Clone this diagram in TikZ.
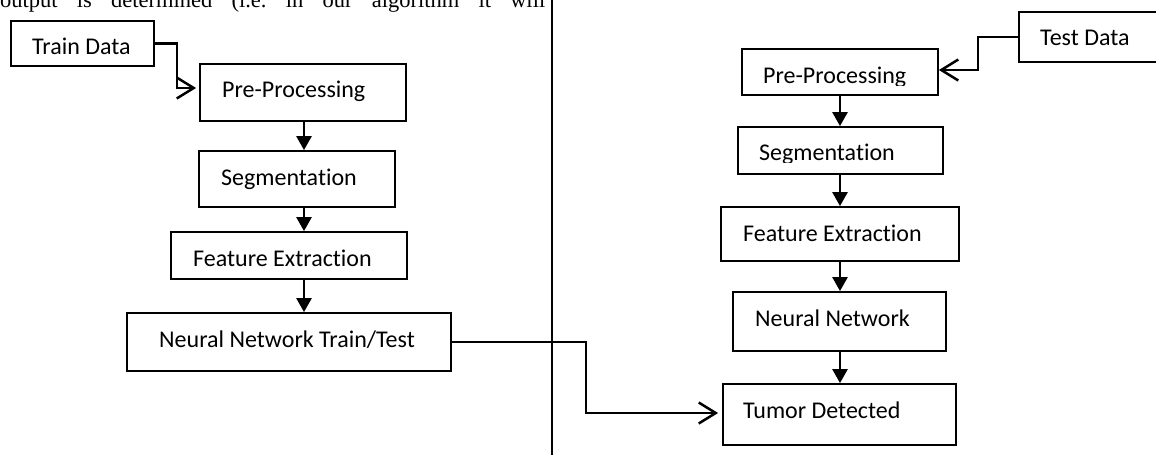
\documentclass[tikz,border=0pt]{standalone}
\usepackage{fontspec}
\setmainfont{Carlito}[Ligatures={NoCommon}]
\newfontfamily\toprm{Liberation Serif}
\usetikzlibrary{arrows.meta}
\tikzset{
  box/.style={draw, line width=1.8pt, rectangle, inner sep=0pt, fill=none},
  lbl/.style={anchor=base west, inner sep=0pt, font=\fontsize{24}{28}\selectfont},
  farrow/.style={line width=2.5pt, -{Triangle[length=14pt,width=15pt]}},
  oarrow/.style={line width=2.5pt, -{Straight Barb[length=17pt,width=21pt,line width=2.5pt]}},
  link/.style={line width=2.5pt},
}
\begin{document}
\begin{tikzpicture}[x=1pt,y=-1pt]
\useasboundingbox (0,0) rectangle (1156,455);
\clip (0,0) rectangle (1156,455);
\fill[white] (0,0) rectangle (1156,455);

% clipped text line at top
\node[anchor=base west, inner sep=0pt] (toptext) at (0,7.5)
  {\toprm\fontsize{22.5}{26}\selectfont\makebox[545pt][s]{output is determined (i.e.\ in our algorithm it will}};

% divider
\coordinate (dtop) at (552,0);
\coordinate (dbot) at (552,455);
\draw[line width=1.8pt] (dtop) -- (dbot);

% column coordinates
\coordinate (lcol) at (304,0);
\coordinate (rcol) at (840,0);

% left boxes
\node[box, minimum width=143pt, minimum height=45pt] (tdata) at (82.5,43.5) {};
\node[box, minimum width=206pt, minimum height=57pt] (lpre) at (303,92.5) {};
\node[box, minimum width=196pt, minimum height=56pt] (lseg) at (297,179) {};
\node[box, minimum width=236pt, minimum height=47pt] (lfe) at (289,255.5) {};
\node[box, minimum width=324pt, minimum height=58pt] (lnn) at (289,342) {};

\node[lbl] (tdatat) at (32,54) {Train Data};
\node[lbl] (lpret) at (222,97) {Pre-Processing};
\node[lbl] (lsegt) at (221,185) {Segmentation};
\node[lbl] (lfet) at (193,266) {Feature Extraction};
\node[lbl] (lnnt) at (159,347) {Neural Network Train/Test};

% right boxes
\node[box, minimum width=141pt, minimum height=50pt] (testd) at (1089.5,37) {};
\node[box, minimum width=196pt, minimum height=46pt] (rpre) at (840,72) {};
\node[box, minimum width=205pt, minimum height=47pt] (rseg) at (840.5,150.5) {};
\node[box, minimum width=238pt, minimum height=54pt] (rfe) at (840,234) {};
\node[box, minimum width=213pt, minimum height=59pt] (rnn) at (839.5,321.5) {};
\node[box, minimum width=233pt, minimum height=61pt] (tumor) at (839.5,414.5) {};

\node[lbl] (testdt) at (1040,45) {Test Data};
\begin{scope}
  \clip (742,49) rectangle (938,85);
  \node[lbl] (rpret) at (763,83) {Pre-Processing};
\end{scope}
\begin{scope}
  \clip (738,127) rectangle (943,162);
  \node[lbl] (rsegt) at (759,160) {Segmentation};
\end{scope}
\node[lbl] (rfet) at (743,241) {Feature Extraction};
\node[lbl] (rnnt) at (755,326) {Neural Network};
\node[lbl] (tumort) at (743,418) {Tumor Detected};

% left vertical arrows
\draw[farrow] (lpre.south -| lcol) -- (lseg.north -| lcol);
\draw[farrow] (lseg.south -| lcol) -- (lfe.north -| lcol);
\draw[farrow] (lfe.south -| lcol) -- (lnn.north -| lcol);

% right vertical arrows
\draw[farrow] (rpre.south -| rcol) -- (rseg.north -| rcol);
\draw[farrow] (rseg.south -| rcol) -- (rfe.north -| rcol);
\draw[farrow] (rfe.south -| rcol) -- (rnn.north -| rcol);
\draw[farrow] (rnn.south -| rcol) -- (tumor.north -| rcol);

% elbow connectors
\coordinate (b1) at (177,43.5);
\coordinate (b2) at (177,88);
\draw[oarrow, shorten >=3pt] (tdata.east) -- (b1) -- (b2) -- (b2 -| lpre.west);

\coordinate (c1) at (978,37);
\coordinate (c2) at (978,70);
\draw[oarrow] (testd.west) -- (c1) -- (c2) -- (c2 -| rpre.east);

\coordinate (d1) at (586,342);
\coordinate (d2) at (586,413);
\draw[oarrow, shorten >=4pt] (lnn.east) -- (d1) -- (d2) -- (d2 -| tumor.west);
\end{tikzpicture}
\end{document}
